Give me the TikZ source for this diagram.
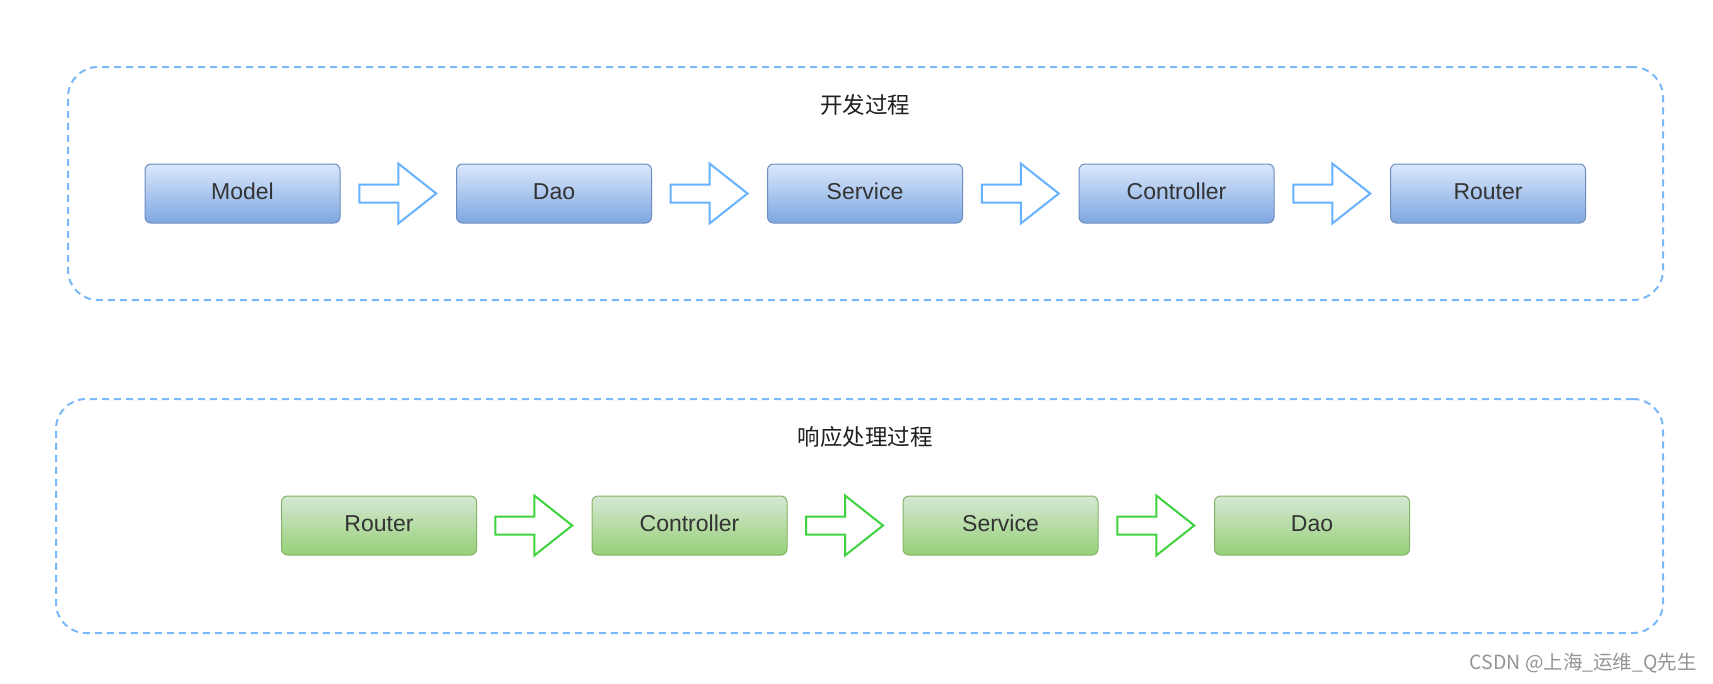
\documentclass[tikz,border=0pt]{standalone}
\usepackage{fontspec}
\setmainfont{Liberation Sans}
\newfontfamily\cjk{Noto Sans CJK SC}
\usetikzlibrary{calc}
\definecolor{dashblue}{HTML}{7AB8F7}
\definecolor{arrowblue}{HTML}{66B2FF}
\definecolor{arrowgreen}{HTML}{3ED33E}
\definecolor{bluetop}{HTML}{DAE8FC}
\definecolor{bluebot}{HTML}{7EA6E0}
\definecolor{blueedge}{HTML}{6C8EBF}
\definecolor{greentop}{HTML}{D5E8D4}
\definecolor{greenbot}{HTML}{97D077}
\definecolor{greenedge}{HTML}{82B366}
\definecolor{txt}{HTML}{333333}
\tikzset{
  container/.style={draw=dashblue, line width=2pt, dash pattern=on 7pt off 5pt, rounded corners=30pt, inner sep=0pt},
  boxbase/.style={line width=1pt, rounded corners=6pt, minimum width=195pt, minimum height=59pt, inner sep=0pt, text=txt, font=\fontsize{23}{27}\selectfont, text height=16.5pt, text depth=4pt},
  bluebox/.style={boxbase, draw=blueedge, top color=bluetop, bottom color=bluebot},
  greenbox/.style={boxbase, draw=greenedge, top color=greentop, bottom color=greenbot},
  blockarrow/.pic={\draw[pic actions, line join=miter] (-39,-9) -- (0,-9) -- (0,-30) -- (38,0) -- (0,30) -- (0,9) -- (-39,9) -- cycle;},
  titletext/.style={font=\cjk\fontsize{22.5}{26}\selectfont, text=black!88},
}
\begin{document}
\begin{tikzpicture}[x=1pt, y=-1pt]
\useasboundingbox[fill=white] (0,0) rectangle (1713,683);
% containers
\node[container, minimum width=1595pt, minimum height=233pt] (dev) at (865.5,183.5) {};
\node[container, minimum width=1607pt, minimum height=234pt] (resp) at (859.5,516) {};
\node[titletext] (devt) at (865,105) {开发过程};
\node[titletext] (respt) at (865,437) {响应处理过程};
% top row
\node[bluebox] (b1) at (242.5,193.5) {Model};
\node[bluebox] (b2) at (554,193.5) {Dao};
\node[bluebox] (b3) at (865,193.5) {Service};
\node[bluebox] (b4) at (1176.5,193.5) {Controller};
\node[bluebox] (b5) at (1488,193.5) {Router};
\foreach \a/\b in {b1/b2,b2/b3,b3/b4,b4/b5}
  \pic[draw=arrowblue, line width=2pt] at ($(\a.east)!0.5!(\b.west)$) {blockarrow};
% bottom row
\node[greenbox] (g1) at (379,525.5) {Router};
\node[greenbox] (g2) at (689.5,525.5) {Controller};
\node[greenbox] (g3) at (1000.5,525.5) {Service};
\node[greenbox] (g4) at (1312,525.5) {Dao};
\foreach \a/\b in {g1/g2,g2/g3,g3/g4}
  \pic[draw=arrowgreen, line width=2pt] at ($(\a.east)!0.5!(\b.west)$) {blockarrow};
% watermark
\node[font=\cjk\fontsize{19.5}{22}\selectfont, text=black!42, anchor=east, inner sep=0pt] (wm) at (1697,663) {CSDN @上海\_运维\_Q先生};
\end{tikzpicture}
\end{document}
